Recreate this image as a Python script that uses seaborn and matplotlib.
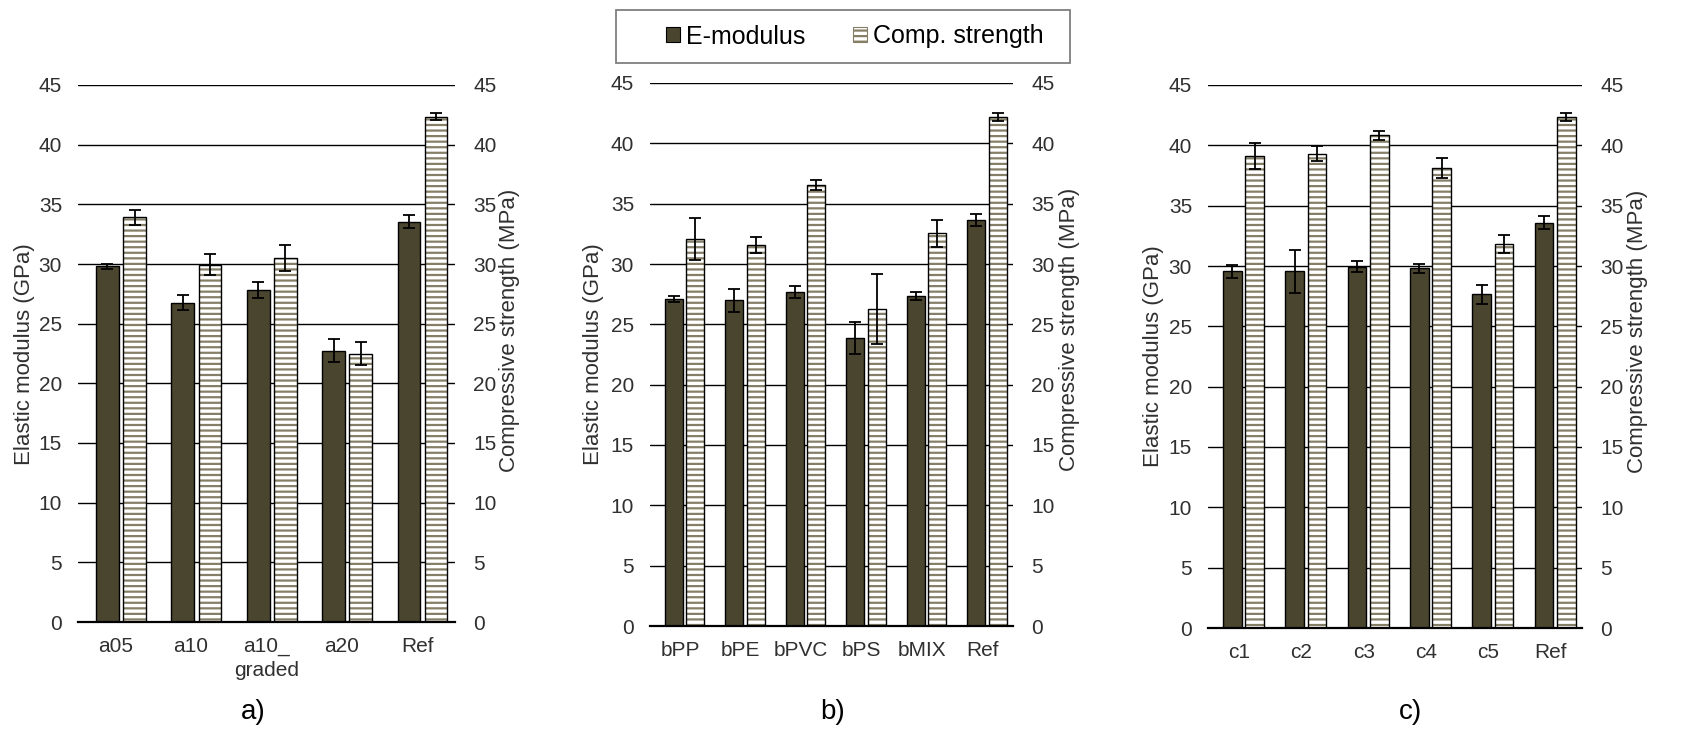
import numpy as np
import matplotlib
matplotlib.use("Agg")
import matplotlib.pyplot as plt
import seaborn as sns
from matplotlib.patches import Patch, Rectangle

# ---------------- data ----------------
cats_a = ["a05", "a10", "a10_\ngraded", "a20", "Ref"]
emod_a = [29.8, 26.75, 27.8, 22.75, 33.55]
emod_a_err = [0.2, 0.62, 0.67, 0.98, 0.55]
comp_a = [33.9, 29.95, 30.5, 22.5, 42.35]
comp_a_err = [0.65, 0.85, 1.1, 1.0, 0.3]

cats_b = ["bPP", "bPE", "bPVC", "bPS", "bMIX", "Ref"]
emod_b = [27.1, 27.0, 27.7, 23.9, 27.35, 33.65]
emod_b_err = [0.26, 0.96, 0.49, 1.33, 0.3, 0.53]
comp_b = [32.1, 31.6, 36.55, 26.3, 32.55, 42.2]
comp_b_err = [1.74, 0.65, 0.4, 2.9, 1.1, 0.33]

cats_c = ["c1", "c2", "c3", "c4", "c5", "Ref"]
emod_c = [29.55, 29.55, 29.95, 29.8, 27.65, 33.6]
emod_c_err = [0.53, 1.76, 0.48, 0.36, 0.79, 0.52]
comp_c = [39.15, 39.3, 40.85, 38.1, 31.8, 42.35]
comp_c_err = [1.07, 0.62, 0.37, 0.82, 0.73, 0.34]

panel_tags = ["a)", "b)", "c)"]
legend_labels = ["E-modulus", "Comp. strength"]
ylabel_left = "Elastic modulus (GPa)"
ylabel_right = "Compressive strength (MPa)"
yticks = list(range(0, 50, 5))

# ---------------- style ----------------
sns.set_theme(style="white")
plt.rcParams['font.family'] = ['Liberation Sans', 'DejaVu Sans']
plt.rcParams['hatch.linewidth'] = 1.6

DARK = "#4a452e"
HATCHC = "#857f68"
TXT = "#303030"
E_OFF, C_OFF, BW = -0.11, 0.25, 0.30

W, H = 1696, 733
fig = plt.figure(figsize=(W / 100, H / 100), dpi=100)


def px_rect(x0, y0, x1, y1):
    return [x0 / W, 1 - y1 / H, (x1 - x0) / W, (y1 - y0) / H]


panels = [
    dict(cats=cats_a, e=emod_a, ee=emod_a_err, c=comp_a, ce=comp_a_err,
         rect=(78, 85, 455, 622), tagx=253, ylx=25, yly=354, yrx=510, yry=330),
    dict(cats=cats_b, e=emod_b, ee=emod_b_err, c=comp_b, ce=comp_b_err,
         rect=(650, 83, 1013, 626), tagx=833, ylx=593, yly=354, yrx=1070, yry=329),
    dict(cats=cats_c, e=emod_c, ee=emod_c_err, c=comp_c, ce=comp_c_err,
         rect=(1208, 85, 1582, 628), tagx=1410, ylx=1153, yly=356, yrx=1638, yry=331),
]

for p, tag in zip(panels, panel_tags):
    ax = fig.add_axes(px_rect(*p["rect"]))
    ax2 = ax.twinx()
    n = len(p["cats"])
    idx = np.arange(n)
    xe = idx + E_OFF
    xc = idx + C_OFF

    # E-modulus bars (left axis)
    sns.barplot(x=xe, y=p["e"], native_scale=True, width=BW, color=DARK,
                saturation=1, errorbar=None, ax=ax)
    for b in ax.patches:
        b.set_facecolor(DARK)
        b.set_edgecolor("black")
        b.set_linewidth(1.0)
    ax.errorbar(xe, p["e"], yerr=p["ee"], fmt="none", ecolor="black",
                elinewidth=1.3, capsize=4.5, capthick=1.3, zorder=4)

    # Compressive strength bars (right axis): hatch layer + outline layer
    sns.barplot(x=xc, y=p["c"], native_scale=True, width=BW, color="white",
                saturation=1, errorbar=None, ax=ax2)
    for b in ax2.patches:
        b.set_facecolor("white")
        b.set_edgecolor(HATCHC)
        b.set_hatch("---")
        b.set_linewidth(0)
    npatch = len(ax2.patches)
    sns.barplot(x=xc, y=p["c"], native_scale=True, width=BW, color="black",
                fill=False, errorbar=None, ax=ax2)
    for b in ax2.patches[npatch:]:
        b.set_facecolor("none")
        b.set_edgecolor("black")
        b.set_linewidth(1.0)
    ax2.errorbar(xc, p["c"], yerr=p["ce"], fmt="none", ecolor="black",
                 elinewidth=1.3, capsize=4.5, capthick=1.3, zorder=4)

    for a in (ax, ax2):
        a.set_ylim(0, 45)
        a.set_yticks(yticks)
        a.set_ylabel("")
        a.set_xlabel("")
        for s in a.spines.values():
            s.set_visible(False)
    ax.set_xlim(-0.5, n - 0.5)
    ax.set_xticks(idx)
    ax.set_xticklabels(p["cats"], linespacing=1.3)
    ax.yaxis.grid(True, color="black", lw=1.0)
    ax.xaxis.grid(False)
    ax.set_axisbelow(True)
    ax2.spines["bottom"].set_visible(True)
    ax2.spines["bottom"].set_color("black")
    ax2.spines["bottom"].set_linewidth(1.6)
    ax.tick_params(axis="y", length=0, pad=11.5, labelsize=15, colors=TXT)
    ax2.tick_params(axis="y", length=0, pad=13, labelsize=15, colors=TXT)
    ax.tick_params(axis="x", length=0, pad=11, labelsize=15, colors=TXT)
    ax2.grid(False)

    fig.text(p["ylx"] / W, 1 - p["yly"] / H, ylabel_left, rotation=90,
             ha="center", va="center", fontsize=16, color=TXT)
    fig.text(p["yrx"] / W, 1 - p["yry"] / H, ylabel_right, rotation=90,
             ha="center", va="center", fontsize=16, color=TXT)
    fig.text(p["tagx"] / W, 1 - 712 / H, tag, ha="center", va="center",
             fontsize=20, color="black")

# legend
handles = [Patch(facecolor=DARK, edgecolor="black", lw=0.8),
           Patch(facecolor="white", edgecolor=HATCHC, hatch="---", lw=0.8)]
fig.legend(handles=handles, labels=legend_labels, loc="center",
           bbox_to_anchor=(855 / W, 1 - 36.5 / H), ncol=2, frameon=False,
           fontsize=18, handlelength=0.55, handleheight=0.55,
           handletextpad=0.25, columnspacing=1.9, labelcolor="black")
fig.patches.append(Rectangle((616 / W, 1 - 63 / H), 454 / W, 53 / H,
                             transform=fig.transFigure, fill=False,
                             edgecolor="#7f7f7f", lw=1.3))

fig.savefig("out.png", dpi=100)
